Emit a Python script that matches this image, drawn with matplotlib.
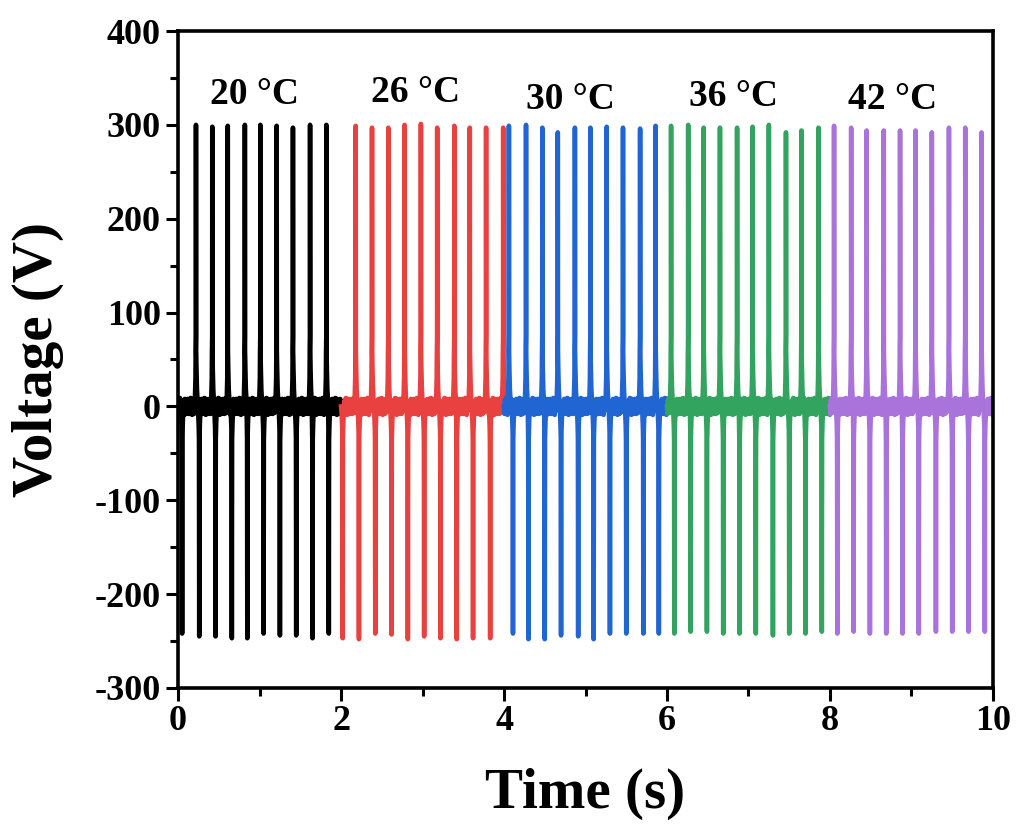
import numpy as np
import matplotlib
matplotlib.use("Agg")
import matplotlib.pyplot as plt
from matplotlib.ticker import MultipleLocator

# temperature segments: (start, end) in s
labels = ['20 °C', '26 °C', '30 °C', '36 °C', '42 °C']
colors = ['#000000', '#E8413F', '#2165D3', '#32A45F', '#A973DB']
seg_start = [0.0, 2.0, 4.0, 6.0, 8.0]
seg_end = [2.0, 4.0, 6.0, 8.0, 10.0]

# positive spike times (s) and peak voltages (V)
pos_t = [
    [0.22, 0.42, 0.61, 0.82, 1.01, 1.21, 1.41, 1.62, 1.82],
    [2.18, 2.38, 2.58, 2.78, 2.98, 3.18, 3.39, 3.58, 3.78, 3.99],
    [4.06, 4.27, 4.47, 4.66, 4.87, 5.06, 5.26, 5.46, 5.67, 5.86],
    [6.05, 6.26, 6.45, 6.65, 6.86, 7.05, 7.25, 7.46, 7.65, 7.86],
    [8.05, 8.26, 8.45, 8.66, 8.86, 9.05, 9.25, 9.46, 9.66, 9.86],
]
pos_v = [
    [300, 298, 299, 300, 300, 299, 297, 300, 300],
    [299, 297, 297, 300, 301, 297, 299, 297, 297, 297],
    [299, 300, 297, 292, 297, 297, 298, 297, 296, 299],
    [299, 300, 297, 297, 297, 298, 300, 292, 294, 297],
    [299, 297, 294, 294, 294, 294, 292, 297, 297, 292],
]
# negative spike times (s) and peak voltages (V)
neg_t = [
    [0.05, 0.26, 0.46, 0.66, 0.85, 1.05, 1.25, 1.45, 1.65, 1.85],
    [2.02, 2.22, 2.42, 2.62, 2.82, 3.02, 3.22, 3.42, 3.62, 3.83],
    [4.11, 4.30, 4.50, 4.70, 4.91, 5.10, 5.30, 5.50, 5.71, 5.90],
    [6.09, 6.29, 6.49, 6.69, 6.89, 7.09, 7.30, 7.50, 7.70, 7.90],
    [8.09, 8.29, 8.49, 8.69, 8.89, 9.09, 9.30, 9.50, 9.70, 9.90],
]
neg_v = [
    [-242, -245, -245, -247, -247, -242, -244, -244, -247, -242],
    [-247, -248, -242, -243, -248, -245, -247, -248, -247, -247],
    [-242, -248, -248, -244, -245, -248, -242, -242, -242, -242],
    [-242, -240, -240, -242, -242, -242, -244, -242, -242, -240],
    [-242, -240, -242, -242, -242, -242, -240, -240, -240, -240],
]

pos_shape_dt = [-0.012, -0.006, -0.004, -0.001, 0.0, 0.002, 0.006, 0.012, 0.020]
pos_shape_v = [10, 30, 55, 75, None, 60, 40, 18, 6]
neg_shape_dt = [-0.012, -0.006, -0.003, 0.0, 0.003, 0.008, 0.014]
neg_shape_v = [-8, -22, -35, None, -35, -18, -4]
# small ringing between spikes
ring_v = [-8, 7, -6, 9, -7, 6, -9, 8, -5, 7, -8, 6, -7, 8, -6, 5]
ring_step = 0.006

label_x = [0.94, 2.91, 4.81, 6.81, 8.77]
label_y = [332, 334, 327, 330, 327]


def build(t0, t1, pt, pv, nt, nv):
    events = [(t, v, pos_shape_dt, pos_shape_v) for t, v in zip(pt, pv)]
    events += [(t, v, neg_shape_dt, neg_shape_v) for t, v in zip(nt, nv)]
    events.sort(key=lambda e: e[0])
    xs, ys = [t0], [0.0]
    k = 0
    for t, v, sdt, sv in events:
        start = t + sdt[0]
        tt = xs[-1] + ring_step
        while tt < start - ring_step / 2:
            xs.append(tt)
            ys.append(ring_v[k % len(ring_v)])
            k += 1
            tt += ring_step
        for d, s in zip(sdt, sv):
            if t + d > t1:
                break
            if t + d <= xs[-1]:
                continue
            xs.append(t + d)
            ys.append(v if s is None else s)
    tt = xs[-1] + ring_step
    while tt < t1:
        xs.append(tt)
        ys.append(ring_v[k % len(ring_v)])
        k += 1
        tt += ring_step
    xs.append(t1)
    ys.append(0.0)
    return xs, ys


plt.rcParams['font.family'] = ['Liberation Serif', 'DejaVu Serif']
plt.rcParams['font.weight'] = 'bold'
plt.rcParams['axes.unicode_minus'] = False

fig = plt.figure(figsize=(10.18, 8.27), dpi=100)
ax = fig.add_axes([0.1749, 0.1681, 0.8005, 0.7944])

for i in range(5):
    x, y = build(seg_start[i], seg_end[i], pos_t[i], pos_v[i], neg_t[i], neg_v[i])
    ax.plot(x, y, color=colors[i], lw=3.3, solid_joinstyle='round')
    ax.text(label_x[i], label_y[i], labels[i], fontsize=27, fontweight='bold',
            ha='center', va='center')

ax.set_xlim(0, 10)
ax.set_ylim(-300, 400)
ax.xaxis.set_major_locator(MultipleLocator(2))
ax.xaxis.set_minor_locator(MultipleLocator(1))
ax.yaxis.set_major_locator(MultipleLocator(100))
ax.yaxis.set_minor_locator(MultipleLocator(50))
ax.tick_params(which='major', direction='out', length=9, width=2.2, labelsize=26)
ax.tick_params(which='minor', direction='out', length=6, width=2.2)
for lab in ax.get_xticklabels() + ax.get_yticklabels():
    lab.set_fontweight('bold')
for sp in ax.spines.values():
    sp.set_linewidth(2.6)

ax.set_xlabel('Time (s)', fontsize=41, fontweight='bold', labelpad=21)
ax.set_ylabel('Voltage (V)', fontsize=41, fontweight='bold', labelpad=22)

fig.savefig('out.png', dpi=100)
